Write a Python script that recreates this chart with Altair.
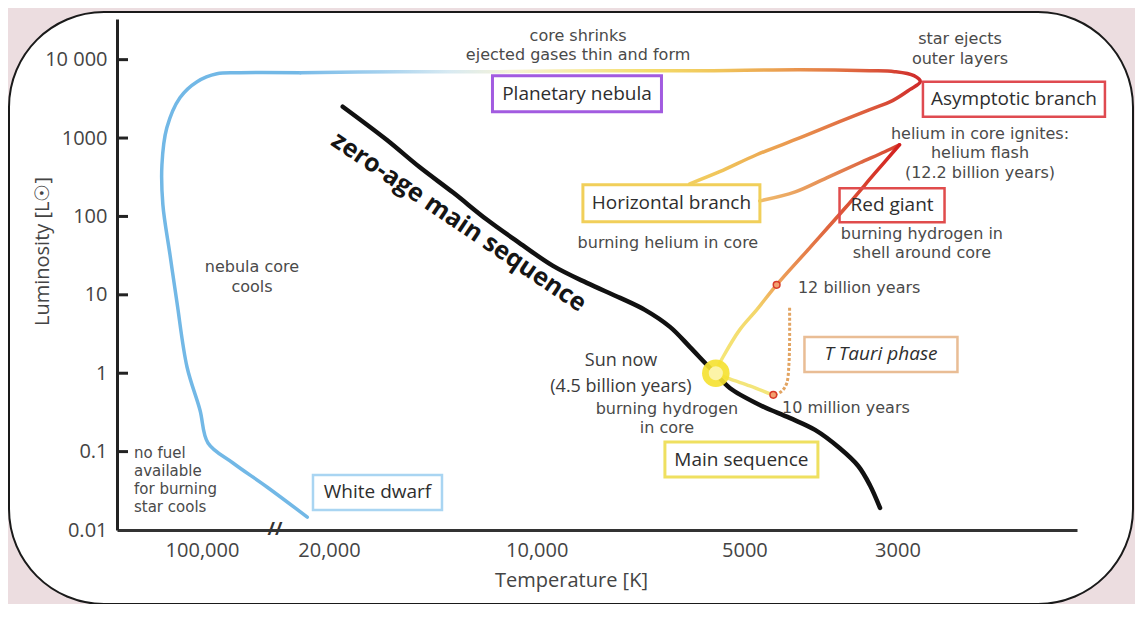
import math
import altair as alt
import pandas as pd

# ---------------- values ----------------
# temperature in K, luminosity in solar units
ZAMS_T = [19100, 16500, 14800, 13200, 11800, 10600, 9470, 8460, 7570, 6970, 6410,
          6000, 5700, 5520, 5250, 4750, 4300, 3950, 3640, 3420, 3290, 3180]
ZAMS_L = [2510, 951, 430, 200, 90.6, 46.1, 23.4, 14.2, 9.15, 6.43, 3.90,
          2.17, 1.35, 1.01, 0.649, 0.394, 0.269, 0.189, 0.111, 0.0655, 0.0375, 0.0191]

PMS_T = [4300, 4300, 4310, 4340, 4410, 4520]          # T Tauri phase
PMS_L = [6.82, 2.66, 1.28, 0.752, 0.594, 0.528]

ARRIVE_T = [4550, 4910, 5250, 5520]                   # 10 million years -> Sun now
ARRIVE_L = [0.528, 0.688, 0.846, 1.01]

RGB_T = [5520, 5370, 5080, 4800, 4490, 4020, 3570, 3230, 2980]   # Sun -> helium flash
RGB_L = [1.01, 1.61, 3.57, 6.43, 13.4, 39.8, 129, 361, 821]

FLASH_T = [2980, 3130, 3400, 3800, 4220, 4750]        # helium flash -> horizontal branch
FLASH_L = [821, 669, 484, 311, 206, 158]

AGB_T = [6000, 5430, 4800, 4150, 3640, 3290, 3050, 2880, 2780, 2840, 3030, 3290,
         4150, 5800, 8100, 11300, 15800, 22000]       # horizontal branch -> AGB -> nebula
AGB_L = [261, 372, 612, 1010, 1620, 2300, 3000, 4140, 5240, 6250, 7030, 7230,
         7450, 7230, 7230, 7030, 7030, 6820]

WD_T = [22000, 47500, 74600, 110000, 154000, 199000, 219000, 215000, 187000, 163000,
        134000, 104000, 88900, 54500, 28000, 21500]   # nebula core -> white dwarf
WD_L = [6820, 6820, 6620, 5240, 3270, 1350, 456, 141, 32.4, 7.90,
        1.20, 0.340, 0.129, 0.0716, 0.0354, 0.0146]

MILESTONE_T = [4490, 4540]      # 12 billion years, 10 million years
MILESTONE_L = [13.4, 0.53]
SUN_T = [5500]
SUN_L = [1.0]

Y_TICKS = [0.01, 0.1, 1, 10, 100, 1000, 10000]
X_TICK_T = [100000, 20000, 10000, 5000, 3000]
X_TICK_LABELS = ["100,000", "20,000", "10,000", "5000", "3000"]
T_BREAK = 23950
T_RANGE = [528000, 1648]
L_RANGE = [0.01, 33000]

BOX_TEXT = ["Planetary nebula", "Asymptotic branch", "Horizontal branch", "Red giant",
            "Main sequence", "White dwarf"]
BOX_T = [8742, 2034, 6379, 3055, 5050, 17010]
BOX_L = [3678, 3130, 147, 138.8, 0.0793, 0.0301]
TT_TEXT = ["T Tauri phase"]
TT_T = [3170]
TT_L = [1.738]

NOTE_TEXT = ["core shrinks", "ejected gases thin and form", "star ejects", "outer layers",
             "helium in core ignites:", "helium flash", "(12.2 billion years)",
             "burning hydrogen in", "shell around core", "burning helium in core",
             "nebula core", "cools", "burning hydrogen", "in core"]
NOTE_T = [8710, 8710, 2435, 2435, 2278, 2278, 2278, 2765, 2765, 6454, 37570, 37570, 6475, 6475]
NOTE_L = [20250, 11410, 18130, 10220, 1142, 643.7, 362.8, 60.0, 33.83, 46.1, 22.59, 12.73,
          0.350, 0.1974]

SUN_TEXT = ["Sun now", "(4.5 billion years)"]
SUN_TXT_T = [7548, 7548]
SUN_TXT_L = [1.436, 0.668]

AGE_TEXT = ["12 billion years", "10 million years"]
AGE_T = [4182, 4411]
AGE_L = [12.27, 0.361]

WD_NOTE = ["no fuel", "available", "for burning", "star cools"]
WD_NOTE_T = [378600, 378600, 378600, 378600]
WD_NOTE_L = [0.0961, 0.05657, 0.03333, 0.01964]

ZAMS_LABEL = ["zero-age main sequence"]
ZAMS_LABEL_T = [12960]
ZAMS_LABEL_L = [85.4]

# ---------------- broken temperature axis ----------------
LOG_BREAK = math.log10(T_BREAK)
COMPRESS = 0.1704
UEXPR = (f"log(datum.T)/LN10 <= {LOG_BREAK:.5f} ? log(datum.T)/LN10 : "
         f"{LOG_BREAK:.5f} + (log(datum.T)/LN10 - {LOG_BREAK:.5f}) * {COMPRESS}")


def u_of(t):
    lt = math.log10(t)
    return lt if lt <= LOG_BREAK else LOG_BREAK + (lt - LOG_BREAK) * COMPRESS


x_vals = [round(u_of(t), 5) for t in X_TICK_T]
x_label_expr = "".join(
    f"abs(datum.value - {v}) < 0.001 ? '{lab}' : " for v, lab in zip(x_vals, X_TICK_LABELS)
) + "''"

FONT = "Open Sans"
NOTE_FONT = "DejaVu Sans"
XAXIS = alt.Axis(values=x_vals, labelExpr=x_label_expr, ticks=False, grid=False,
                 domainColor="#333333", domainWidth=3, labelFont=FONT, labelFontSize=20,
                 labelColor="#444444", labelPadding=10, labelFlush=False, labelOverlap=False,
                 title="Temperature [K]", titleFont=FONT, titleFontSize=20,
                 titleFontWeight="normal", titleColor="#444444", titleX=454, titleY=50,
                 titleAlign="center", titleBaseline="middle", zindex=1)
YAXIS = alt.Axis(values=Y_TICKS,
                 labelExpr="datum.value > 5000 ? '10 000' : datum.value >= 1 ? format(datum.value, 'd') : datum.value > 0.05 ? '0.1' : '0.01'",
                 ticks=False, grid=False, domainColor="#222222", domainWidth=3,
                 labelFont=FONT, labelFontSize=20, labelColor="#444444", labelPadding=10,
                 labelFlush=False, labelOverlap=False,
                 title="Luminosity [L☉]", titleFont=FONT, titleFontSize=20,
                 titleFontWeight="normal", titleColor="#444444", titleAngle=270,
                 titleX=-75, titleY=232, titleAlign="center", titleBaseline="middle", zindex=1)

X = alt.X("u:Q", scale=alt.Scale(domain=[u_of(T_RANGE[1]), u_of(T_RANGE[0])], reverse=True,
                                 nice=False, zero=False), axis=XAXIS)
Y = alt.Y("L:Q", scale=alt.Scale(type="log", domain=L_RANGE, nice=False), axis=YAXIS)


def base(df):
    return alt.Chart(df).transform_calculate(u=UEXPR)


def track(T, L, cap="round", **mark):
    df = pd.DataFrame({"T": T, "L": L, "i": list(range(len(T)))})
    return base(df).mark_line(interpolate="catmull-rom", strokeCap=cap,
                              strokeJoin="round", **mark).encode(x=X, y=Y, order="i:Q")


def grad(stops, x1=0, y1=0, x2=1, y2=0):
    return alt.Gradient(gradient="linear", x1=x1, y1=y1, x2=x2, y2=y2,
                        stops=[alt.GradientStop(offset=o, color=c) for o, c in stops])


def texts(labels, T, L, font=FONT, **mark):
    df = pd.DataFrame({"T": T, "L": L, "text": labels})
    return base(df).mark_text(font=font, **mark).encode(x=X, y=Y, text="text:N")


layers = []

# white rounded panel
layers.append(alt.Chart(pd.DataFrame({"k": [0]})).mark_rect(
    fill="white", stroke="#1a1a1a", strokeWidth=2, cornerRadius=95
).encode(x=alt.value(-108), x2=alt.value(1016), y=alt.value(-7), y2=alt.value(585)))

# inward y ticks
layers.append(alt.Chart(pd.DataFrame({"L": Y_TICKS[1:]})).mark_rule(
    color="#222222", strokeWidth=3).encode(x=alt.value(0), x2=alt.value(11), y=Y))

# tracks
layers.append(track(ZAMS_T, ZAMS_L, color="#111111", strokeWidth=4.5))
layers.append(track(WD_T, WD_L, color="#72b8e6", strokeWidth=3.5))
layers.append(track(AGB_T, AGB_L, strokeWidth=3.5, stroke=grad([
    (0.0, "#79bbe8"), (0.13, "#a3d0ee"), (0.24, "#d8eaf2"), (0.34, "#f6f3d8"),
    (0.45, "#f7eaa0"), (0.56, "#f4dc6a"), (0.68, "#f0c45a"), (0.80, "#e9944e"),
    (0.92, "#dc5a3c"), (1.0, "#cf2a2a")])))
layers.append(track(FLASH_T, FLASH_L, strokeWidth=3.5, stroke=grad([
    (0.0, "#f0bb6c"), (0.5, "#e58c55"), (1.0, "#d6402e")])))
layers.append(track(RGB_T, RGB_L, strokeWidth=3.5, stroke=grad([
    (0.0, "#f6ea7a"), (0.25, "#f3d66a"), (0.36, "#eea35a"), (0.6, "#e06a40"),
    (1.0, "#d21e1e")], x1=0, y1=1, x2=1, y2=0)))
layers.append(track(ARRIVE_T, ARRIVE_L, color="#f3e57a", strokeWidth=3.5))
layers.append(track(PMS_T, PMS_L, cap="butt", color="#e2a462", strokeWidth=3,
                    strokeDash=[3, 2]))

# milestones and the Sun
layers.append(base(pd.DataFrame({"T": MILESTONE_T, "L": MILESTONE_L})).mark_point(
    shape="circle", filled=True, size=45, fill="#f3a070", stroke="#d83a2a", strokeWidth=1.5,
    opacity=1).encode(x=X, y=Y))
layers.append(base(pd.DataFrame({"T": SUN_T, "L": SUN_L})).mark_point(
    shape="circle", filled=True, size=760, color="#f5e233", opacity=0.92).encode(x=X, y=Y))
layers.append(base(pd.DataFrame({"T": SUN_T, "L": SUN_L})).mark_point(
    shape="circle", filled=True, size=200, color="#fcf4a8", opacity=1).encode(x=X, y=Y))

# label boxes (width, height, colour, stroke width)
BOX_STYLE = [(169, 36, "#a25be0", 3), (182, 35, "#df4a50", 2.5), (177, 37, "#f1cf5a", 3),
             (105, 34, "#e04c4c", 2.5), (153, 35, "#efe060", 3), (129, 35, "#a9d5f2", 2.5)]
for t, l, (w, h, col, sw) in zip(BOX_T, BOX_L, BOX_STYLE):
    layers.append(base(pd.DataFrame({"T": [t], "L": [l]})).mark_rect(
        fillOpacity=0, stroke=col, strokeWidth=sw,
        xOffset=-w / 2, x2Offset=w / 2, yOffset=-h / 2, y2Offset=h / 2
    ).encode(x=X, x2="u:Q", y=Y, y2="L:Q"))
for t, l in zip(TT_T, TT_L):
    layers.append(base(pd.DataFrame({"T": [t], "L": [l]})).mark_rect(
        fillOpacity=0, stroke="#e9bd95", strokeWidth=2.5,
        xOffset=-76.5, x2Offset=76.5, yOffset=-17.5, y2Offset=17.5
    ).encode(x=X, x2="u:Q", y=Y, y2="L:Q"))

layers.append(texts(BOX_TEXT, BOX_T, BOX_L, fontSize=19, color="#2e2e2e",
                    align="center", baseline="middle"))
layers.append(texts(TT_TEXT, TT_T, TT_L, fontSize=19, color="#2e2e2e", fontStyle="italic",
                    align="center", baseline="middle"))
layers.append(texts(NOTE_TEXT, NOTE_T, NOTE_L, font=NOTE_FONT, fontSize=16, color="#4a4a4a",
                    align="center", baseline="middle"))
layers.append(texts(SUN_TEXT, SUN_TXT_T, SUN_TXT_L, fontSize=18, color="#3a3a3a",
                    align="center", baseline="middle"))
layers.append(texts(AGE_TEXT, AGE_T, AGE_L, font=NOTE_FONT, fontSize=16, color="#4a4a4a",
                    align="left", baseline="middle"))
layers.append(texts(WD_NOTE, WD_NOTE_T, WD_NOTE_L, font=NOTE_FONT, fontSize=15,
                    color="#4a4a4a", align="left", baseline="middle"))
layers.append(texts(ZAMS_LABEL, ZAMS_LABEL_T, ZAMS_LABEL_L, fontSize=25, fontWeight="bold",
                    color="#151515", angle=34, align="center", baseline="middle"))
layers.append(texts(["//"], [T_BREAK], [L_RANGE[0]], fontSize=18, fontWeight="bold",
                    color="#333333", align="center", baseline="middle"))

chart = alt.layer(*layers).properties(
    width=960, height=511,
    padding={"left": 109, "top": 11, "right": 58, "bottom": 74},
    autosize=alt.AutoSizeParams(type="none"),
).configure(background="#ecdde0").configure_view(strokeWidth=0)

chart.save("out.html", embed_options={"renderer": "svg", "actions": False})
